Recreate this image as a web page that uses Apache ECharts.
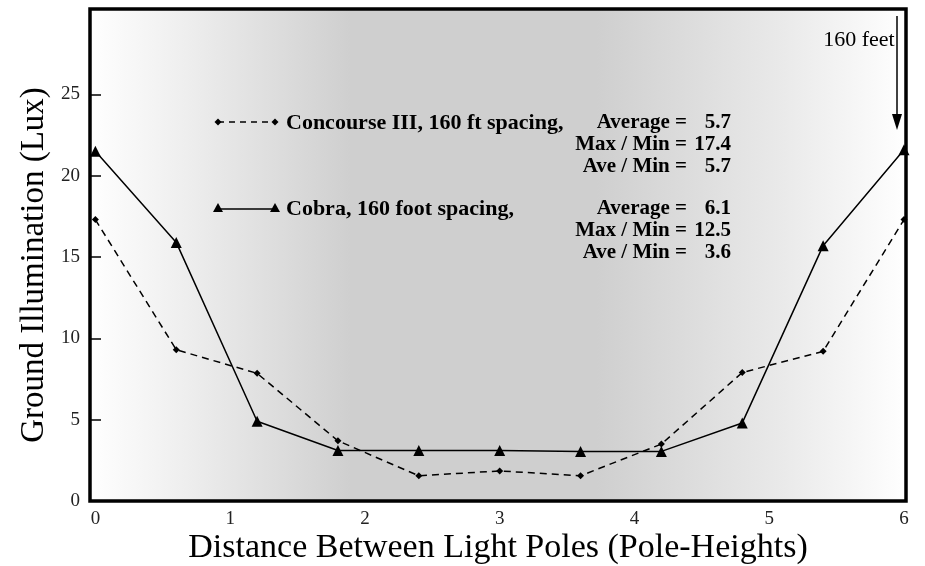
<!DOCTYPE html>
<html>
<head>
<meta charset="utf-8">
<script src="https://cdn.jsdelivr.net/npm/echarts@6/dist/echarts.min.js"></script>
<style>
  html, body { margin: 0; padding: 0; background: #ffffff; }
  #chart { width: 925px; height: 566px; }
</style>
</head>
<body>
<div id="chart"></div>
<script>
// Distance along the road, in pole-heights
const distance = [0, 0.6, 1.2, 1.8, 2.4, 3.0, 3.6, 4.2, 4.8, 5.4, 6.0];
// Ground illumination (lux) for each luminaire
const concourse = [17.3, 9.3, 7.85, 3.7, 1.55, 1.85, 1.55, 3.5, 7.9, 9.2, 17.3];
const cobra = [21.5, 15.9, 4.9, 3.1, 3.1, 3.1, 3.05, 3.05, 4.8, 15.7, 21.6];
// Axis tick values
const xTicks = [0, 1, 2, 3, 4, 5, 6];
const yTicks = [0, 5, 10, 15, 20, 25];
// Axis titles
const xTitle = 'Distance Between Light Poles (Pole-Heights)';
const yTitle = 'Ground Illumination (Lux)';
// Summary statistics shown beside each series key
const concourseName = 'Concourse III, 160 ft spacing,';
const cobraName = 'Cobra, 160 foot spacing,';
const concourseStats = [['Average =', '5.7'], ['Max / Min =', '17.4'], ['Ave / Min =', '5.7']];
const cobraStats = [['Average =', '6.1'], ['Max / Min =', '12.5'], ['Ave / Min =', '3.6']];

const SERIF = '"Liberation Serif", "DejaVu Serif", serif';
const nameFont = 'bold 22px ' + SERIF;
const statFont = 'bold 21px ' + SERIF;

function pairs(xs, ys) { return xs.map((x, i) => [x, ys[i]]); }

function statBlock(stats, yStart) {
  const out = [];
  stats.forEach((s, i) => {
    const y = yStart + i * 22;
    out.push({ type: 'text', style: { text: s[0], x: 687, y: y, font: statFont, fill: '#000', textAlign: 'right', textVerticalAlign: 'middle' } });
    out.push({ type: 'text', style: { text: s[1], x: 731, y: y, font: statFont, fill: '#000', textAlign: 'right', textVerticalAlign: 'middle' } });
  });
  return out;
}

function diamond(cx, cy, r) {
  return { type: 'polygon', shape: { points: [[cx, cy - r], [cx + r, cy], [cx, cy + r], [cx - r, cy]] }, style: { fill: '#000' } };
}
function triangle(cx, cy, r) {
  return { type: 'polygon', shape: { points: [[cx, cy - r], [cx + r, cy + r * 0.8], [cx - r, cy + r * 0.8]] }, style: { fill: '#000' } };
}

const keyElements = [
  // dashed key
  { type: 'line', shape: { x1: 218, y1: 122, x2: 275, y2: 122 }, style: { stroke: '#000', lineWidth: 1.3, lineDash: [6, 5] } },
  diamond(218, 122, 3.5), diamond(275, 122, 3.5),
  { type: 'text', style: { text: concourseName, x: 286, y: 123, font: nameFont, fill: '#000', textAlign: 'left', textVerticalAlign: 'middle' } },
  // solid key
  { type: 'line', shape: { x1: 218, y1: 209, x2: 275, y2: 209 }, style: { stroke: '#000', lineWidth: 1.3 } },
  triangle(218, 208, 5), triangle(275, 208, 5),
  { type: 'text', style: { text: cobraName, x: 286, y: 209, font: nameFont, fill: '#000', textAlign: 'left', textVerticalAlign: 'middle' } }
].concat(statBlock(concourseStats, 123), statBlock(cobraStats, 209));

const arrowElements = [
  { type: 'line', shape: { x1: 897, y1: 16, x2: 897, y2: 118 }, style: { stroke: '#000', lineWidth: 1.5 } },
  { type: 'polygon', shape: { points: [[892, 114], [902, 114], [897, 130]] }, style: { fill: '#000' } },
  { type: 'text', style: { text: '160 feet', x: 859, y: 40, font: '22px ' + SERIF, fill: '#000', textAlign: 'center', textVerticalAlign: 'middle' } }
];

// Axis titles
const titleElements = [
  { type: 'text', rotation: Math.PI / 2, x: 34, y: 265,
    style: { text: yTitle, x: 0, y: 0, font: '33px ' + SERIF, fill: '#000', textAlign: 'center', textVerticalAlign: 'middle' } },
  { type: 'text', style: { text: xTitle, x: 498, y: 548, font: '34px ' + SERIF, fill: '#000', textAlign: 'center', textVerticalAlign: 'middle' } }
];

const chart = echarts.init(document.getElementById('chart'), null, { renderer: 'canvas' });
chart.setOption({
  animation: false,
  backgroundColor: '#ffffff',
  grid: {
    left: 90, right: 19, top: 9, bottom: 65,
    outerBoundsMode: 'none',
    containLabel: false,
    show: true,
    borderColor: '#000', borderWidth: 3.5,
    backgroundColor: {
      type: 'linear', x: 0, y: 0, x2: 1, y2: 0,
      colorStops: [
        { offset: 0, color: '#ffffff' },
        { offset: 0.12, color: '#eeeeee' },
        { offset: 0.32, color: '#cfcfcf' },
        { offset: 0.62, color: '#cfcfcf' },
        { offset: 0.85, color: '#eaeaea' },
        { offset: 1, color: '#ffffff' }
      ]
    }
  },
  xAxis: {
    type: 'value', min: -0.04, max: 6.015,
    axisLine: { show: false, onZero: false },
    axisTick: { show: false },
    splitLine: { show: false },
    axisLabel: { customValues: xTicks, fontFamily: SERIF, fontSize: 19, color: '#222', margin: 9 }
  },
  yAxis: {
    type: 'value', min: 0, max: 30.25,
    axisLine: { show: false, onZero: false },
    axisTick: { show: true, inside: true, length: 11, customValues: yTicks, lineStyle: { color: '#000', width: 1.5 } },
    splitLine: { show: false },
    axisLabel: { customValues: yTicks, fontFamily: SERIF, fontSize: 19, color: '#222', margin: 10 }
  },
  series: [
    {
      name: concourseName, type: 'line', data: pairs(distance, concourse),
      symbol: 'diamond', symbolSize: 7,
      lineStyle: { color: '#000', width: 1.5, type: [7, 5] },
      itemStyle: { color: '#000' }
    },
    {
      name: cobraName, type: 'line', data: pairs(distance, cobra),
      symbol: 'triangle', symbolSize: 11,
      lineStyle: { color: '#000', width: 1.5 },
      itemStyle: { color: '#000' }
    }
  ],
  graphic: keyElements.concat(arrowElements, titleElements)
});
</script>
</body>
</html>
